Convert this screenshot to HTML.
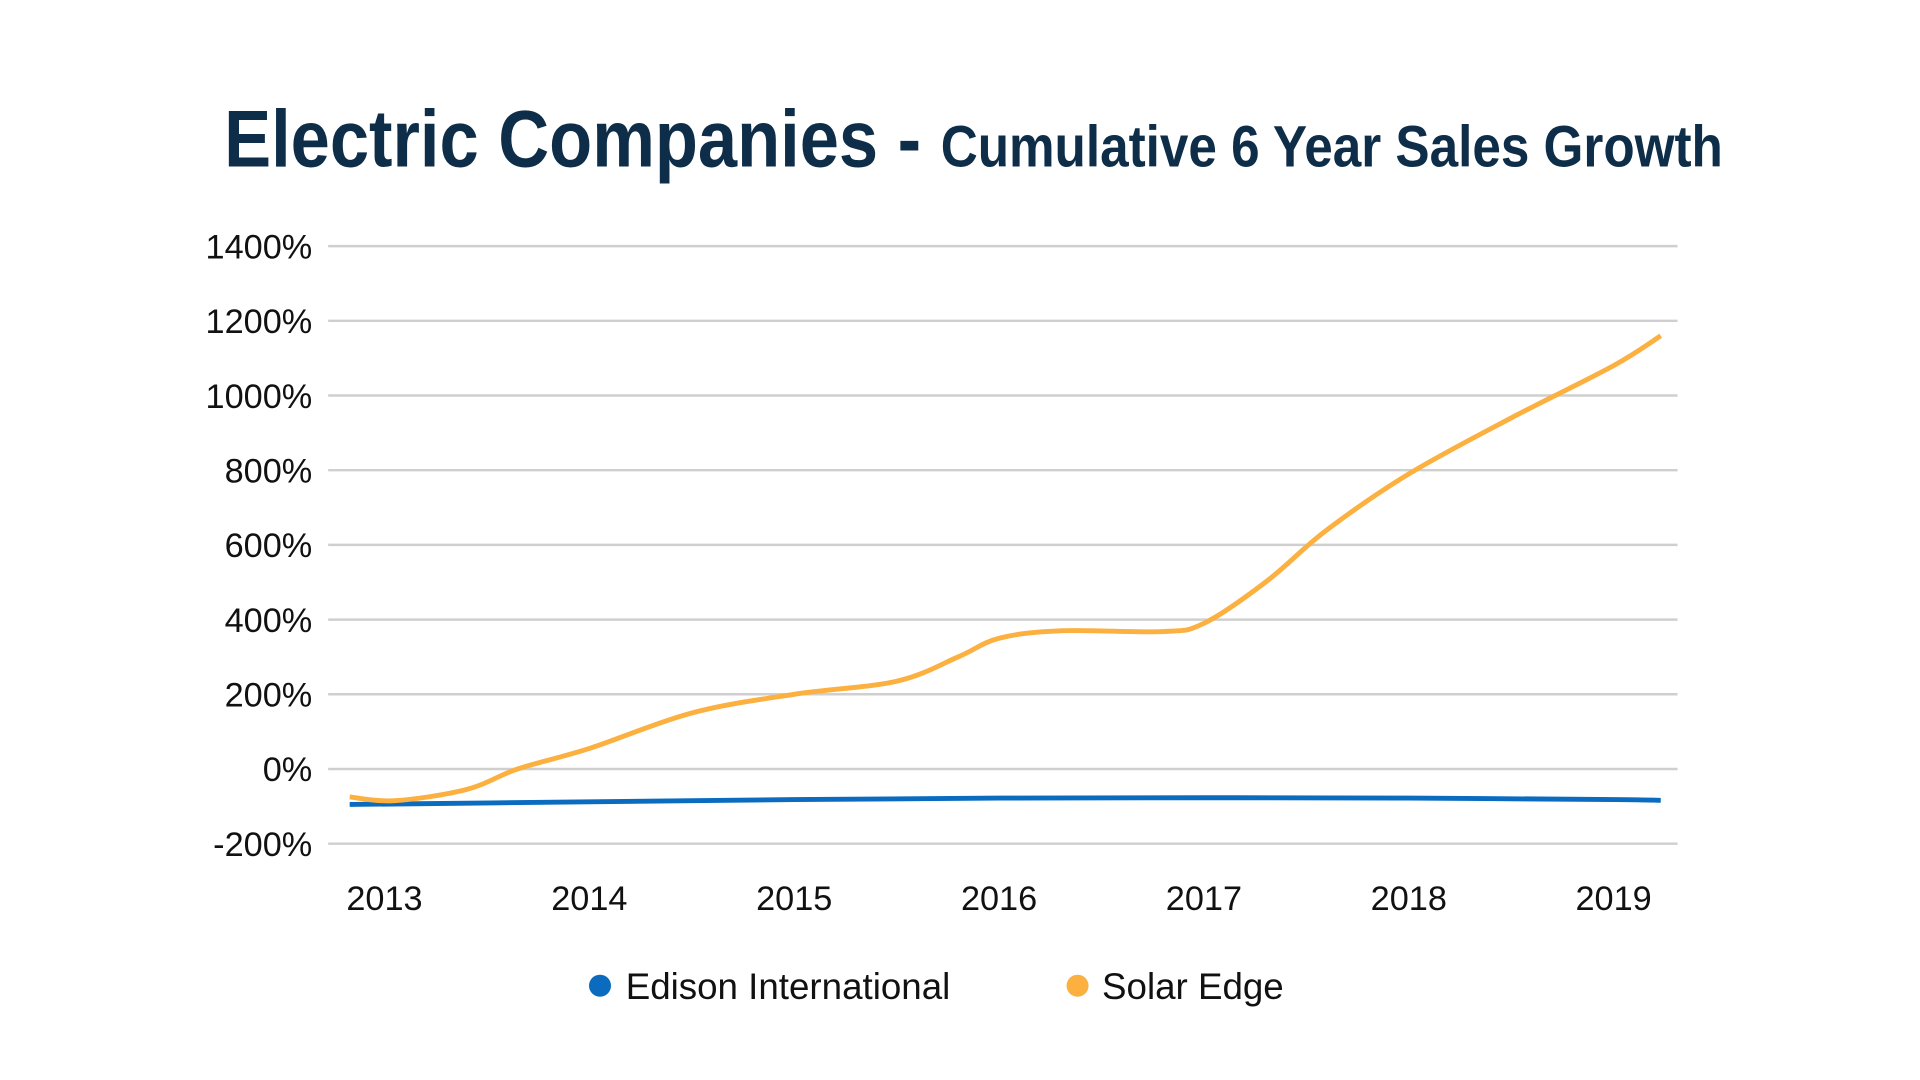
<!DOCTYPE html>
<html><head><meta charset="utf-8"><style>
html,body{margin:0;padding:0;background:#fff;}
svg{display:block;}
</style></head><body>
<svg id="chart" width="1920" height="1080" viewBox="0 0 1568 882" preserveAspectRatio="none" xmlns="http://www.w3.org/2000/svg">
<g transform="translate(795,0) scale(0.872,1)">
<text x="0" y="136" text-anchor="middle" fill="#0d2d48" font-family="Liberation Sans, sans-serif" font-weight="bold"><tspan font-size="66">Electric Companies - </tspan><tspan font-size="48">Cumulative 6 Year Sales Growth</tspan></text>
</g>
<g id="grid"></g>
<g id="ylabels"></g>
<g id="xlabels"></g>
<g id="series"></g>
<g>
<circle cx="490" cy="805" r="9" fill="#0a6bbf"/>
<text x="511" y="816" font-size="30" font-family="Liberation Sans, sans-serif" fill="#111">Edison International</text>
<circle cx="880" cy="805" r="9" fill="#fbb040"/>
<text x="900" y="816" font-size="30" font-family="Liberation Sans, sans-serif" fill="#111">Solar Edge</text>
</g>
</svg>
<script>
const yTicks = [-200,0,200,400,600,800,1000,1200,1400];
const years = [2013,2014,2015,2016,2017,2018,2019];
const solarX = [2012.83,2013.05,2013.4,2013.65,2014,2014.5,2015,2015.5,2015.8,2016,2016.3,2016.8,2017,2017.3,2017.6,2018,2018.5,2019,2019.23];
const solarY = [-75,-85,-55,0,55,150,200,235,300,350,370,368,390,500,640,790,940,1080,1160];
const edisonX = [2012.83,2014,2015,2016,2017,2018,2019,2019.23];
const edisonY = [-95,-88,-82,-78,-77,-78,-82,-84];
const svgNS="http://www.w3.org/2000/svg";
const X0=2013, XPX0=314, XSTEP=167.3;
function xs(v){return XPX0+(v-X0)*XSTEP;}
function ys(v){return 628-v*0.305;}
const grid=document.getElementById('grid'), yl=document.getElementById('ylabels'), xl=document.getElementById('xlabels'), ser=document.getElementById('series');
yTicks.forEach(t=>{
  const l=document.createElementNS(svgNS,'line');
  
  
  l.setAttribute('x1',268);l.setAttribute('x2',1370);l.setAttribute('y1',ys(t));l.setAttribute('y2',ys(t));
  l.setAttribute('stroke','#cfcfcf');l.setAttribute('stroke-width','2');
  grid.appendChild(l);
  const tx=document.createElementNS(svgNS,'text');
  
  
  tx.setAttribute('x',255);tx.setAttribute('y',ys(t)+10);tx.setAttribute('text-anchor','end');
  tx.setAttribute('font-size','28');tx.setAttribute('font-family','Liberation Sans, sans-serif');tx.setAttribute('fill','#111');
  tx.textContent=t+'%';yl.appendChild(tx);
});
years.forEach(y=>{
  const tx=document.createElementNS(svgNS,'text');
  
  
  tx.setAttribute('x',xs(y));tx.setAttribute('y',743);tx.setAttribute('text-anchor','middle');
  tx.setAttribute('font-size','28');tx.setAttribute('font-family','Liberation Sans, sans-serif');tx.setAttribute('fill','#111');
  tx.textContent=y;xl.appendChild(tx);
});
function smooth(px,py){
  const p=px.map((x,i)=>[xs(x),ys(py[i])]);
  let d='M'+p[0][0]+','+p[0][1];
  for(let i=0;i<p.length-1;i++){
    const p0=p[i-1]||p[i],p1=p[i],p2=p[i+1],p3=p[i+2]||p2;
    const c1=[p1[0]+(p2[0]-p0[0])/6,p1[1]+(p2[1]-p0[1])/6];
    const c2=[p2[0]-(p3[0]-p1[0])/6,p2[1]-(p3[1]-p1[1])/6];
    d+=' C'+c1+' '+c2+' '+p2;
  }
  return d;
}
const e=document.createElementNS(svgNS,'path');


e.setAttribute('d',smooth(edisonX,edisonY));e.setAttribute('fill','none');e.setAttribute('stroke','#0a6bbf');e.setAttribute('stroke-width','4');
ser.appendChild(e);
const s=document.createElementNS(svgNS,'path');


s.setAttribute('d',smooth(solarX,solarY));s.setAttribute('fill','none');s.setAttribute('stroke','#fbb040');s.setAttribute('stroke-width','4');
ser.appendChild(s);
</script>
</body></html>
